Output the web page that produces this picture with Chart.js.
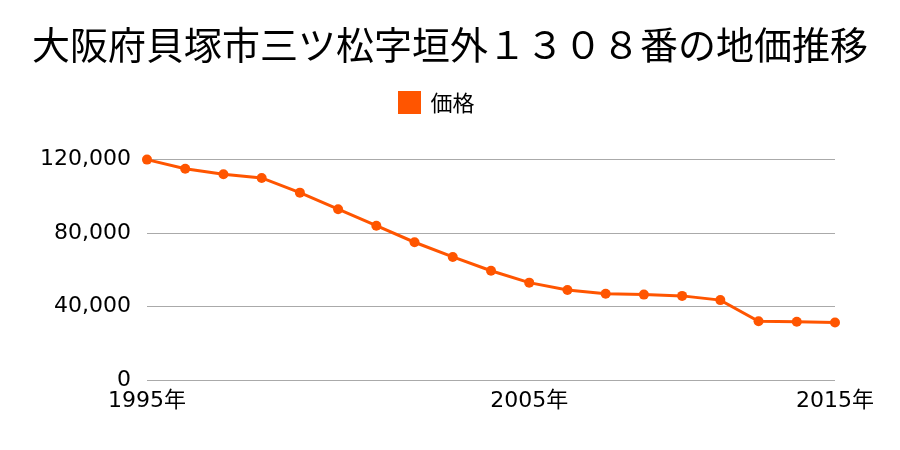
<!DOCTYPE html>
<html lang="ja">
<head>
<meta charset="utf-8">
<script src="https://cdn.jsdelivr.net/npm/chart.js@4"></script>
<style>
  html, body { margin: 0; padding: 0; background: #fff; }
  #wrap { width: 900px; height: 450px; }
</style>
</head>
<body>
<div id="wrap"><canvas id="chart" width="900" height="450"></canvas></div>
<script>
const titleText = "大阪府貝塚市三ツ松字垣外１３０８番の地価推移",
  seriesName = "価格",
  years = [1995, 1996, 1997, 1998, 1999, 2000, 2001, 2002, 2003, 2004, 2005,
    2006, 2007, 2008, 2009, 2010, 2011, 2014, 2015],
  prices = [120000, 115000, 112000, 110000, 102000, 93000, 84000, 75000, 67000,
    59500, 53000, 49000, 47000, 46500, 45800, 43500, 32000, 31700, 31300],
  shownYears = [1995, 2005, 2015],
  yTicks = [0, 40000, 80000, 120000];

const orange = "#ff5500",
  gridGray = "#aaaaaa",
  fontFamily = "'DejaVu Sans', 'Noto Sans CJK JP', sans-serif",
  cjkFamily = "'Noto Sans CJK JP', sans-serif";

// extra room under the legend, and legend nudged a little left
const legendTweak = {
  id: "legendTweak",
  beforeInit(chart) {
    const fit = chart.legend.fit;
    chart.legend.fit = function () {
      fit.bind(chart.legend)();
      this.height += 36;
    };
  },
  afterLayout(chart) {
    chart.legend.right -= 26;
  },
};

new Chart(document.getElementById("chart").getContext("2d"), {
  type: "line",
  data: {
    labels: years.map((y) => y + "年"),
    datasets: [
      {
        label: seriesName,
        data: prices,
        borderColor: orange,
        backgroundColor: orange,
        borderWidth: 3,
        pointRadius: 5,
        pointBackgroundColor: orange,
        pointBorderWidth: 0,
        tension: 0,
        clip: false,
      },
    ],
  },
  options: {
    responsive: false,
    animation: false,
    layout: { padding: 0 },
    plugins: {
      title: {
        display: true,
        text: titleText,
        color: "#000",
        font: { family: cjkFamily, size: 38, weight: "normal" },
        padding: { top: 22, bottom: 14 },
      },
      legend: {
        labels: {
          color: "#000",
          boxWidth: 20,
          boxHeight: 20,
          padding: 10,
          font: { family: cjkFamily, size: 22 },
        },
      },
      tooltip: { enabled: false },
    },
    scales: {
      x: {
        offset: false,
        grid: { display: false, drawTicks: false },
        border: { display: false },
        afterFit(scale) {
          scale.height = 70;
        },
        ticks: {
          autoSkip: false,
          maxRotation: 0,
          padding: 8,
          color: "#000",
          font: { family: fontFamily, size: 22 },
          callback(value, index) {
            return shownYears.includes(years[index]) ? years[index] + "年" : "";
          },
        },
      },
      y: {
        min: 0,
        max: 120000,
        afterFit(scale) {
          scale.width = 147;
        },
        afterBuildTicks(scale) {
          scale.ticks = yTicks.map((v) => ({ value: v }));
        },
        grid: { color: gridGray, lineWidth: 1, drawTicks: false },
        border: { display: false },
        ticks: {
          padding: 16,
          color: "#000",
          font: { family: fontFamily, size: 22 },
          callback: (v) => v.toLocaleString("en-US"),
        },
      },
      // empty right-hand axis, only reserves space
      yRight: {
        position: "right",
        display: true,
        afterFit(scale) {
          scale.width = 65;
        },
        grid: { display: false, drawTicks: false },
        border: { display: false },
        ticks: { display: false },
      },
    },
  },
  plugins: [legendTweak],
});
</script>
</body>
</html>
